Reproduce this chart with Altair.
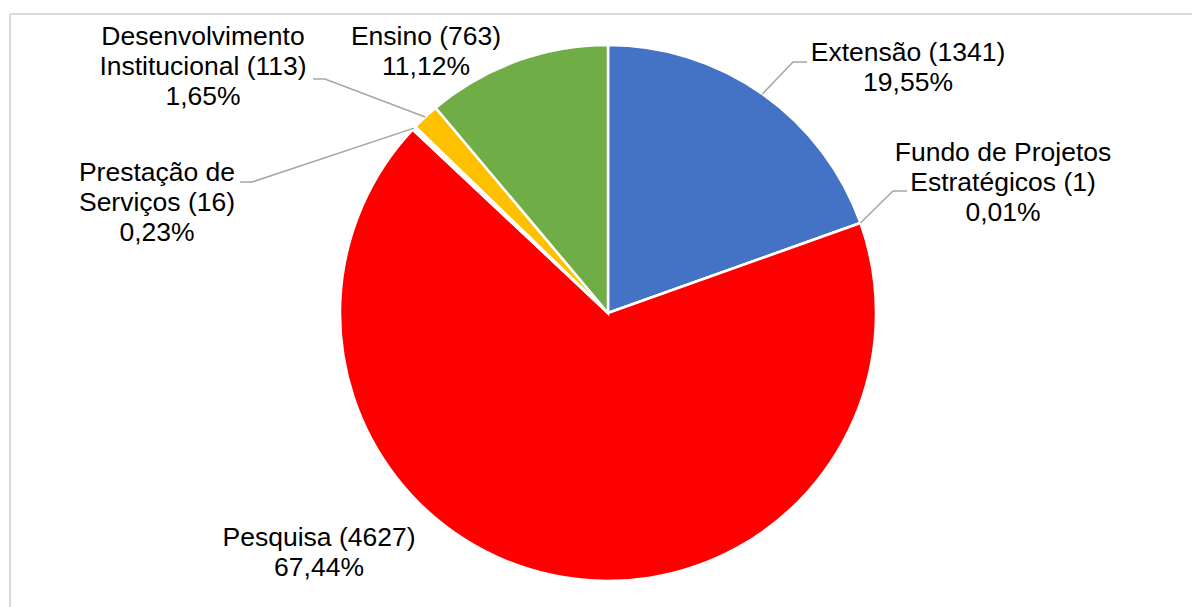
import math
import altair as alt
import pandas as pd

# ---- data ----
categories = [
    "Extensão",
    "Fundo de Projetos\nEstratégicos",
    "Pesquisa",
    "Prestação de\nServiços",
    "Desenvolvimento\nInstitucional",
    "Ensino",
]
values = [1341, 1, 4627, 16, 113, 763]
colors = ["#4472C4", "#FFFFFF", "#FF0000", "#FFFFFF", "#FFC000", "#70AD47"]

# ---- layout (pixels) ----
W, H = 1192, 607
CX, CY, R = 608, 313, 268
FONT = "Liberation Sans"
FS = 26.5
LINE_H = 30
# label block: centre x, first line middle y
label_pos = [(908, 53), (1003, 153), (319, 538), (157, 173), (203, 37), (426, 37)]
# leader: (start x, start y, elbow x) or None
leaders = [(807, 62, 793), (907, 191, 893), None, (240, 182, 252), (313, 79, 325), None]

total = sum(values)
idx = list(range(len(categories)))

pie_df = pd.DataFrame({"cat": [c.replace("\n", " ") for c in categories],
                       "value": values, "idx": idx})

# text lines
rows = []
for i, (c, v) in enumerate(zip(categories, values)):
    pct = f"{100 * v / total:.2f}%".replace(".", ",")
    parts = c.split("\n")
    parts[-1] = f"{parts[-1]} ({v})"
    parts.append(pct)
    lx, ly = label_pos[i]
    for j, p in enumerate(parts):
        rows.append({"t": p, "px": lx, "py": ly + j * LINE_H, "k": f"{i}-{j}"})
text_df = pd.DataFrame(rows)

# leader lines: end on the slice's middle at the pie edge
lrows = []
cum = 0
for i, v in enumerate(values):
    mid = (cum + v / 2) / total * 2 * math.pi
    cum += v
    if leaders[i] is None:
        continue
    sx, sy, ex = leaders[i]
    px = CX + R * math.sin(mid)
    py = CY - R * math.cos(mid)
    lrows += [
        {"g": i, "o": 0, "px": sx, "py": sy},
        {"g": i, "o": 1, "px": ex, "py": sy},
        {"g": i, "o": 2, "px": px, "py": py},
    ]
lead_df = pd.DataFrame(lrows)

pie = alt.Chart(pie_df).mark_arc(outerRadius=R, stroke="white", strokeWidth=2.5).encode(
    theta=alt.Theta("value:Q", stack=True),
    order=alt.Order("idx:Q"),
    color=alt.Color("cat:N", scale=alt.Scale(domain=pie_df["cat"].tolist(), range=colors), legend=None),
    x=alt.value(CX),
    y=alt.value(CY),
)

lines = alt.Chart(lead_df).mark_line(color="#A6A6A6", strokeWidth=1.5).encode(
    x=alt.X("px:Q", scale=None, axis=None),
    y=alt.Y("py:Q", scale=None, axis=None),
    detail="g:N",
    order="o:Q",
)

texts = alt.Chart(text_df).mark_text(font=FONT, fontSize=FS, color="#000000",
                                     align="center", baseline="middle").encode(
    x=alt.X("px:Q", scale=None, axis=None),
    y=alt.Y("py:Q", scale=None, axis=None),
    text="t:N",
    detail="k:N",
)

border_top = alt.Chart(pie_df).mark_rule(color="#D9D9D9", strokeWidth=2).encode(
    x=alt.value(10), x2=alt.value(W), y=alt.value(14))
border_left = alt.Chart(pie_df).mark_rule(color="#D9D9D9", strokeWidth=2).encode(
    x=alt.value(10), y=alt.value(14), y2=alt.value(H))

chart = alt.layer(border_top, border_left, pie, lines, texts).properties(
    width=W, height=H, padding=0, autosize=alt.AutoSizeParams(type="none"),
    background="white",
).configure_view(stroke=None)

chart.save("out.html", embed_options={"renderer": "svg", "actions": False})
